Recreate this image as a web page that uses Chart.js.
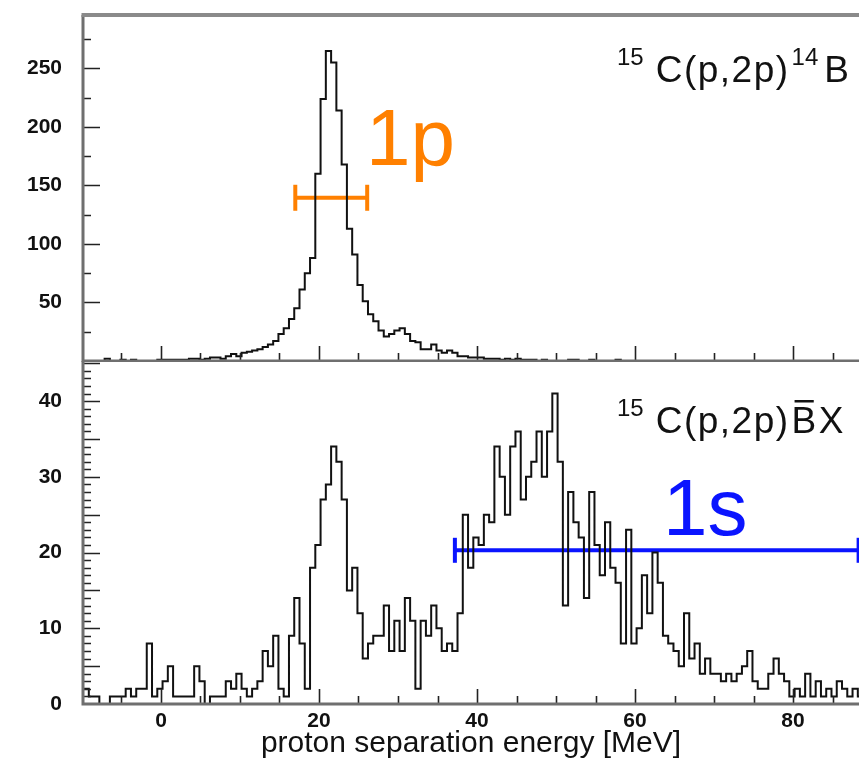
<!DOCTYPE html>
<html>
<head>
<meta charset="utf-8">
<script src="https://cdn.jsdelivr.net/npm/chart.js@4/dist/chart.umd.min.js"></script>
<style>
  body { margin: 0; background: #fff; overflow: hidden; }
  canvas { position: absolute; left: 0; }
  #top { top: 0; }
  #bottom { top: 361px; }
</style>
</head>
<body>
<canvas id="top" width="859" height="362"></canvas>
<canvas id="bottom" width="859" height="401"></canvas>
<script>
// histogram binning, MeV
const binStart = -9.8;
const binWidth = 2 / 3;

// 15C(p,2p)14B counts per bin
const countsBound = [
  0, 0, 0, 0, 2, 0, 0, 1, 0, 1,
  0, 0, 0, 0, 1, 1, 1, 1, 1, 1,
  2, 2, 1, 2, 3, 3, 2, 4, 6, 4,
  7, 8, 9, 10, 12, 14, 17, 23, 28, 36,
  45, 61, 75, 88, 160, 224, 265, 255, 214, 168,
  113, 91, 65, 51, 40, 34, 26, 21, 23, 26,
  28, 23, 17, 16, 10, 10, 14, 9, 7, 9,
  7, 4, 4, 3, 3, 3, 2, 2, 2, 1,
  2, 1, 2, 1, 1, 1, 0, 1, 0, 0,
  0, 0, 1, 1, 0, 0, 1, 0, 0, 0,
  0, 1, 0, 0, 0, 0, 0, 0, 0, 0,
  0, 0, 0, 0, 0, 0, 0, 0, 0, 0,
  0, 0, 0, 0, 0, 0, 0, 0, 0, 0,
  0, 0, 0, 0, 0, 0, 0, 0, 0, 0,
  0, 0, 0, 0, 0, 0, 0, 0
];

// 15C(p,2p)BX counts per bin
const countsUnbound = [
  2, 1, 1, 0, 0, 1, 1, 1, 2, 1,
  2, 2, 8, 1, 2, 3, 5, 1, 1, 1,
  1, 5, 3, 0, 1, 1, 1, 3, 2, 4,
  2, 1, 2, 3, 7, 5, 9, 2, 1, 9,
  14, 8, 2, 18, 21, 27, 29, 34, 32, 27,
  15, 18, 12, 6, 8, 9, 9, 13, 7, 11,
  7, 14, 11, 2, 11, 9, 13, 10, 7, 8,
  7, 12, 25, 18, 22, 21, 25, 24, 34, 30,
  25, 34, 36, 27, 30, 32, 36, 30, 36, 41,
  32, 13, 28, 24, 22, 14, 28, 21, 17, 24,
  18, 16, 8, 23, 8, 10, 17, 12, 20, 16,
  9, 8, 7, 5, 12, 6, 8, 4, 6, 4,
  4, 3, 4, 3, 4, 5, 7, 3, 2, 2,
  4, 6, 4, 3, 1, 2, 1, 4, 1, 3,
  1, 2, 1, 3, 2, 1, 2, 1
];

const xTickLabels = [0, 20, 40, 60, 80];
const topTickLabels = [50, 100, 150, 200, 250];
const bottomTickLabels = [0, 10, 20, 30, 40];

// FWHM markers: [from, to] in MeV and the level they sit at
const width1p = [17.0, 26.1];
const level1p = 139.5;
const width1s = [37.2, 88.3];
const level1s = 20.3;

const FONT = "'Liberation Sans', Arial, sans-serif";
Chart.defaults.font.family = FONT;
Chart.defaults.color = '#111';

function histPoints(counts) {
  const pts = counts.map((c, i) => ({ x: binStart + i * binWidth, y: c }));
  pts.push({ x: binStart + counts.length * binWidth, y: counts[counts.length - 1] });
  return pts;
}

function histSet(counts) {
  return {
    data: histPoints(counts),
    borderColor: '#111',
    borderWidth: 2,
    stepped: 'before',
    pointRadius: 0,
    fill: false
  };
}

function barSet(range, level, color, capRadius) {
  return {
    data: [{ x: range[0], y: level }, { x: range[1], y: level }],
    borderColor: color,
    borderWidth: 4,
    pointStyle: 'line',
    rotation: 90,
    pointRadius: capRadius,
    pointBorderColor: color,
    pointBorderWidth: 4
  };
}

// ticks pointing into the plot + frame
const frameTicks = {
  id: 'frameTicks',
  afterDatasetsDraw(chart, args, o) {
    const { ctx, chartArea: a, scales: { x, y } } = chart;
    ctx.save();
    ctx.strokeStyle = '#222';
    ctx.lineWidth = 1.6;
    ctx.beginPath();
    for (let v = -5; v <= x.max; v += 5) {
      const px = Math.round(x.getPixelForValue(v)) + 0.5;
      const len = v % 20 === 0 ? 15 : 8;
      ctx.moveTo(px, a.bottom);
      ctx.lineTo(px, a.bottom - len);
    }
    for (let v = o.minor; v < y.max; v += o.minor) {
      const py = Math.round(y.getPixelForValue(v)) + 0.5;
      const len = v % o.major === 0 ? 17 : 8;
      ctx.moveTo(a.left, py);
      ctx.lineTo(a.left + len, py);
    }
    ctx.stroke();

    ctx.strokeStyle = '#6f6f6f';
    ctx.lineWidth = 3;
    ctx.beginPath();
    ctx.moveTo(a.left, a.top);
    ctx.lineTo(a.left, a.bottom);
    ctx.lineTo(a.right, a.bottom);
    ctx.stroke();
    if (o.topBorder) {
      ctx.strokeStyle = '#8a8a8a';
      ctx.lineWidth = 4;
      ctx.beginPath();
      ctx.moveTo(a.left - 1.5, a.top);
      ctx.lineTo(a.right, a.top);
      ctx.stroke();
    }
    ctx.restore();
  }
};

// text runs laid out left to right; sup = raised small digits
const panelText = {
  id: 'panelText',
  afterDraw(chart, args, o) {
    const ctx = chart.ctx;
    ctx.save();
    ctx.textBaseline = 'alphabetic';
    o.items.forEach(t => {
      ctx.font = t.size + 'px ' + FONT;
      ctx.fillStyle = t.color || '#111';
      ctx.fillText(t.text, t.x, t.y);
    });
    if (o.title) {
      let x = o.title.x;
      o.title.runs.forEach(r => {
        const size = r.sup ? 24 : 37;
        ctx.font = size + 'px ' + FONT;
        ctx.letterSpacing = r.sup ? '0px' : '1.5px';
        ctx.fillStyle = '#111';
        const y = o.title.y - (r.sup ? 17 : 0);
        ctx.fillText(r.text, x, y);
        const w = ctx.measureText(r.text).width;
        if (r.overline) ctx.fillRect(x + 3, y - 33, w - 7, 2.5);
        x += w + (r.gap || 0);
      });
    }
    ctx.restore();
  }
};

function yScale(max, step, labels) {
  return {
    type: 'linear',
    min: 0,
    max: max,
    grid: { display: false, drawTicks: false },
    border: { display: false },
    ticks: { stepSize: step, includeBounds: false, padding: 21, font: { size: 21, weight: 'bold' } },
    afterBuildTicks: s => { s.ticks = labels.map(v => ({ value: v })); },
    afterFit: s => {
      s.width = 83;
      s.paddingTop = 0;
      s.paddingBottom = 0;
    }
  };
}

new Chart(document.getElementById('top'), {
  type: 'line',
  data: {
    datasets: [
      histSet(countsBound),
      barSet(width1p, level1p, '#ff8000', 13)
    ]
  },
  options: {
    responsive: false,
    devicePixelRatio: 1,
    animation: false,
    layout: { autoPadding: false, padding: { top: 15, bottom: 1, left: 0, right: 0 } },
    plugins: {
      legend: { display: false },
      tooltip: { enabled: false },
      frameTicks: { minor: 25, major: 50, topBorder: true },
      panelText: {
        items: [
          { text: '1p', x: 366, y: 165, size: 80, color: '#ff8000' }
        ],
        title: {
          x: 617, y: 82,
          runs: [
            { text: '15', sup: true, gap: 12 },
            { text: 'C(p,2p)', gap: 2 },
            { text: '14', sup: true, gap: 6 },
            { text: 'B' }
          ]
        }
      }
    },
    scales: {
      x: { type: 'linear', min: -9.87, max: 88.35, display: false },
      y: yScale(295.7, 50, topTickLabels)
    }
  },
  plugins: [frameTicks, panelText]
});

new Chart(document.getElementById('bottom'), {
  type: 'line',
  data: {
    datasets: [
      histSet(countsUnbound),
      barSet(width1s, level1s, '#0a14ff', 12.5)
    ]
  },
  options: {
    responsive: false,
    devicePixelRatio: 1,
    animation: false,
    layout: { autoPadding: false, padding: 0 },
    plugins: {
      legend: { display: false },
      tooltip: { enabled: false },
      frameTicks: { minor: 1, major: 5, topBorder: false },
      panelText: {
        items: [
          { text: '1s', x: 663, y: 174, size: 80, color: '#0a14ff' }
        ],
        title: {
          x: 617, y: 72,
          runs: [
            { text: '15', sup: true, gap: 12 },
            { text: 'C(p,2p)', gap: 2 },
            { text: 'B', overline: true, gap: 1 },
            { text: 'X' }
          ]
        }
      }
    },
    scales: {
      x: {
        type: 'linear',
        min: -9.87,
        max: 88.35,
        grid: { display: false, drawTicks: false },
        border: { display: false },
        ticks: { stepSize: 20, includeBounds: false, padding: 5, maxRotation: 0, font: { size: 21, weight: 'bold' } },
        afterBuildTicks: s => { s.ticks = xTickLabels.map(v => ({ value: v })); },
        afterFit: s => {
          s.height = 58;
          s.paddingLeft = 0;
          s.paddingRight = 0;
        },
        title: {
          display: true,
          text: 'proton separation energy [MeV]',
          font: { size: 30 },
          padding: 0
        }
      },
      y: yScale(45.3, 10, bottomTickLabels)
    }
  },
  plugins: [frameTicks, panelText]
});
</script>
</body>
</html>
